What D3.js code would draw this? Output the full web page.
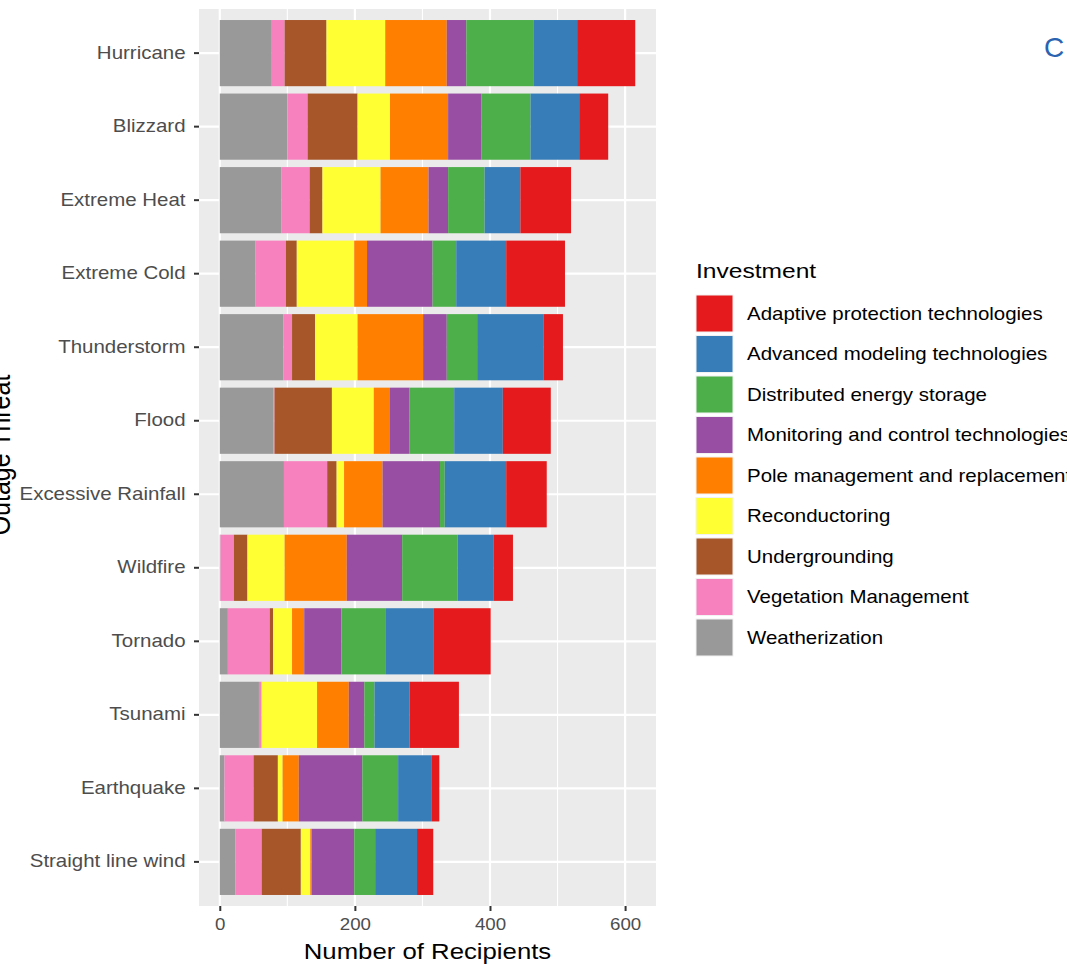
<!DOCTYPE html>
<html>
<head>
<meta charset="utf-8">
<script src="https://cdn.jsdelivr.net/npm/d3@7"></script>
<style>
  body { margin: 0; background: #fff; }
  text { font-family: "Liberation Sans", Arial, Helvetica, sans-serif; }
</style>
</head>
<body>
<div id="chart"></div>
<script>
// categories, top to bottom
const threats = ["Hurricane", "Blizzard", "Extreme Heat", "Extreme Cold", "Thunderstorm", "Flood",
  "Excessive Rainfall", "Wildfire", "Tornado", "Tsunami", "Earthquake", "Straight line wind"];

// series values, one per threat (same order as above)
const weatherization = [77, 100, 91, 53, 94, 79, 95, 1, 12, 58, 7, 23];
const vegetation     = [19, 30, 42, 45, 13, 2, 64, 20, 62, 4, 43, 39];
const undergrounding = [62, 74, 19, 16, 34, 85, 14, 20, 5, 0, 36, 58];
const reconductoring = [87, 48, 86, 85, 63, 62, 11, 55, 28, 82, 7, 14];
const pole           = [91, 86, 71, 19, 97, 24, 57, 92, 18, 47, 24, 2];
const monitoring     = [29, 49, 29, 97, 35, 29, 85, 82, 55, 23, 94, 63];
const distributed    = [100, 73, 54, 35, 45, 66, 7, 82, 66, 15, 53, 31];
const advanced       = [64, 72, 53, 74, 98, 72, 91, 53, 71, 52, 50, 62];
const adaptive       = [86, 43, 75, 87, 29, 71, 60, 29, 84, 73, 11, 24];

// legend order (top to bottom)
const investments = ["Adaptive protection technologies", "Advanced modeling technologies",
  "Distributed energy storage", "Monitoring and control technologies", "Pole management and replacement",
  "Reconductoring", "Undergrounding", "Vegetation Management", "Weatherization"];
const seriesValues = [adaptive, advanced, distributed, monitoring, pole, reconductoring,
  undergrounding, vegetation, weatherization];

const xTicks = [0, 200, 400, 600];

// build table for d3.stack
const table = threats.map((t, i) => {
  const row = {threat: t};
  investments.forEach((k, j) => row[k] = seriesValues[j][i]);
  return row;
});

const W = 1067, H = 967;
const panel = {left: 199, right: 656, top: 9, bottom: 906};
const sx = 1.17; // text looks a bit wide in the reference

const svg = d3.select("#chart")
    .append("svg")
    .attr("width", W)
    .attr("height", H);

// stack from left: Weatherization ... Adaptive
const stackKeys = investments.slice().reverse();
const stackedData = d3.stack().keys(stackKeys)(table);

const maxTotal = d3.max(table, d => d3.sum(stackKeys, k => d[k]));

const x = d3.scaleLinear()
    .domain([-0.05 * maxTotal, 1.05 * maxTotal])
    .range([panel.left, panel.right]);

const y = d3.scaleBand()
    .domain(threats)
    .range([panel.top, panel.bottom])
    .paddingInner(0.1)
    .paddingOuter(0.15);

const color = d3.scaleOrdinal()
    .domain(investments)
    .range(d3.schemeSet1);

// panel background
svg.append("rect")
    .attr("x", panel.left)
    .attr("y", panel.top)
    .attr("width", panel.right - panel.left)
    .attr("height", panel.bottom - panel.top)
    .attr("fill", "#ebebeb");

// grid lines
const minor = [100, 300, 500];
svg.append("g").selectAll("line")
    .data(minor)
    .enter().append("line")
    .attr("x1", d => x(d)).attr("x2", d => x(d))
    .attr("y1", panel.top).attr("y2", panel.bottom)
    .attr("stroke", "#fff").attr("stroke-width", 1.1);
svg.append("g").selectAll("line")
    .data(xTicks)
    .enter().append("line")
    .attr("x1", d => x(d)).attr("x2", d => x(d))
    .attr("y1", panel.top).attr("y2", panel.bottom)
    .attr("stroke", "#fff").attr("stroke-width", 2.2);
svg.append("g").selectAll("line")
    .data(threats)
    .enter().append("line")
    .attr("x1", panel.left).attr("x2", panel.right)
    .attr("y1", d => y(d) + y.bandwidth() / 2).attr("y2", d => y(d) + y.bandwidth() / 2)
    .attr("stroke", "#fff").attr("stroke-width", 2.2);

// bars
svg.append("g")
    .selectAll("g")
    .data(stackedData)
    .enter().append("g")
    .attr("fill", d => color(d.key))
    .selectAll("rect")
    .data(d => d)
    .enter().append("rect")
    .attr("x", d => x(d[0]))
    .attr("y", d => y(d.data.threat))
    .attr("width", d => x(d[1]) - x(d[0]))
    .attr("height", y.bandwidth());

// axes
const yAxis = svg.append("g")
    .attr("transform", "translate(" + panel.left + ",0)")
    .call(d3.axisLeft(y).tickSize(5).tickPadding(4));
yAxis.select(".domain").remove();
yAxis.selectAll("line").attr("stroke", "#333").attr("stroke-width", 2);
yAxis.selectAll("text")
    .attr("x", -11.5)
    .attr("transform", "scale(" + sx + ",1)")
    .attr("fill", "#4d4d4d")
    .style("font-size", "17.5px")
    .style("font-family", "Liberation Sans, Arial, sans-serif");

const xAxis = svg.append("g")
    .attr("transform", "translate(0," + panel.bottom + ")")
    .call(d3.axisBottom(x).tickValues(xTicks).tickSize(5).tickPadding(8));
xAxis.select(".domain").remove();
xAxis.selectAll("line").attr("stroke", "#333").attr("stroke-width", 2);
xAxis.selectAll("text")
    .attr("transform", "scale(" + sx + ",1)")
    .attr("fill", "#4d4d4d")
    .style("font-size", "16px")
    .style("font-family", "Liberation Sans, Arial, sans-serif");

// axis titles
svg.append("text")
    .attr("text-anchor", "middle")
    .attr("transform", "translate(" + ((panel.left + panel.right) / 2) + ",959) scale(" + sx + ",1)")
    .attr("fill", "#000")
    .style("font-size", "22px")
    .text("Number of Recipients");

// y title sits partly off the left edge, as in the reference
svg.append("text")
    .attr("text-anchor", "middle")
    .attr("transform", "translate(10,455) scale(" + sx + ",1) rotate(-90)")
    .attr("fill", "#000")
    .style("font-size", "25px")
    .text("Outage Threat");

// legend
const legend = svg.append("g").attr("transform", "translate(696,0)");
legend.append("text")
    .attr("transform", "translate(0,278) scale(" + sx + ",1)")
    .attr("fill", "#000")
    .style("font-size", "21px")
    .text("Investment");

const keyStep = 40.5, keySize = 37, keyTop = 295;
const items = legend.selectAll(".item")
    .data(investments)
    .enter().append("g")
    .attr("class", "item")
    .attr("transform", (d, i) => "translate(0," + (keyTop + i * keyStep) + ")");
items.append("rect")
    .attr("width", keySize)
    .attr("height", keySize)
    .attr("fill", d => color(d))
    .attr("stroke", "#f2f2f2")
    .attr("stroke-width", 1);
items.append("text")
    .attr("transform", "translate(51," + (keySize / 2) + ") scale(" + sx + ",1)")
    .attr("dy", "0.35em")
    .attr("fill", "#000")
    .style("font-size", "17.5px")
    .text(d => d);

// stray blue letter at the top right
svg.append("text")
    .attr("x", 1044)
    .attr("y", 57)
    .attr("fill", "#2b63b1")
    .style("font-family", "Liberation Sans, Arial, sans-serif")
    .style("font-size", "28px")
    .text("C");
</script>
</body>
</html>
